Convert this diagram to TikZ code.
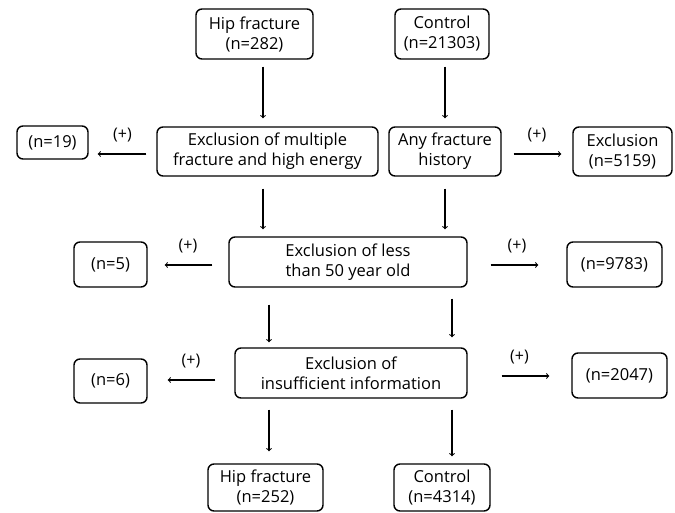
\documentclass[tikz,border=0pt]{standalone}
\usepackage{fontspec}
\setmainfont{Open Sans}
\usetikzlibrary{arrows,positioning,calc}

\begin{document}
\begin{tikzpicture}[x=1pt,y=-1pt]


\tikzstyle{block} = [draw, rounded corners=6pt, line width=1.4pt, align=center, inner sep=0pt, font=\fontsize{16.5}{20}\selectfont]
\tikzstyle{arr} = [->, line width=1.1pt]
\tikzstyle{plustag} = [midway, above=11pt, inner sep=0pt, font=\fontsize{16}{18}\selectfont]

\useasboundingbox (0,0) rectangle (675,513);

% lanes of the vertical arrows
\coordinate (laneA) at (263,0);
\coordinate (laneB) at (269,0);
\coordinate (laneC) at (445,0);
\coordinate (laneD) at (452,0);

\node[block, minimum width=117pt, minimum height=50pt] (hip1) at (254.5,34) {Hip fracture\\(n=282)};
\node[block, minimum width=94pt, minimum height=50pt] (ctrl1) at (442,34) {Control\\(n=21303)};

\node[block, minimum width=71pt, minimum height=33pt] (ex19) at (52.5,142.5) {(n=19)};
\node[block, minimum width=221pt, minimum height=49pt] (multi) at (267.5,151.5) {Exclusion of multiple\\fracture and high energy};
\node[block, minimum width=112pt, minimum height=49pt] (anyfx) at (445,151.5) {Any fracture\\history};
\node[block, minimum width=99pt, minimum height=49pt] (ex5159) at (622.5,151.5) {Exclusion\\(n=5159)};

\node[block, minimum width=73pt, minimum height=45pt] (ex5) at (110.5,264.5) {(n=5)};
\node[block, minimum width=238pt, minimum height=50pt] (less50) at (348,262) {Exclusion of less\\than 50 year old};
\node[block, minimum width=95pt, minimum height=45pt] (ex9783) at (614.5,264.5) {(n=9783)};

\node[block, minimum width=73pt, minimum height=44pt] (ex6) at (110.5,381) {(n=6)};
\node[block, minimum width=232pt, minimum height=50pt] (insuf) at (351,373) {Exclusion of\\insufficient information};
\node[block, minimum width=95pt, minimum height=45pt] (ex2047) at (619.5,375.5) {(n=2047)};

\node[block, minimum width=115pt, minimum height=47pt] (hip2) at (265.5,487.5) {Hip fracture\\(n=252)};
\node[block, minimum width=96pt, minimum height=47pt] (ctrl2) at (442,487.5) {Control\\(n=4314)};

% downward arrows
\draw[arr, shorten <=7pt, shorten >=8pt] (hip1.south -| laneA) -- (multi.north -| laneA);
\draw[arr, shorten <=7pt, shorten >=8pt] (ctrl1.south -| laneC) -- (anyfx.north -| laneC);
\draw[arr, shorten <=12pt, shorten >=7pt] (multi.south -| laneA) -- (less50.north -| laneA);
\draw[arr, shorten <=12pt, shorten >=7pt] (anyfx.south -| laneC) -- (less50.north -| laneC);
\draw[arr, shorten <=17pt, shorten >=5pt] (less50.south -| laneB) -- (insuf.north -| laneB);
\draw[arr, shorten <=11pt, shorten >=10pt] (less50.south -| laneD) -- (insuf.north -| laneD);
\draw[arr, shorten <=11pt, shorten >=12pt] (insuf.south -| laneB) -- (hip2.north -| laneB);
\draw[arr, shorten <=11pt, shorten >=7pt] (insuf.south -| laneD) -- (ctrl2.north -| laneD);

% sideways exclusions
\draw[arr, shorten <=10pt, shorten >=9pt] ([yshift=-2.5pt]multi.west) -- ([yshift=-2.5pt]multi.west -| ex19.east) node[plustag]{(+)};
\draw[arr, shorten <=12pt, shorten >=11pt] ([yshift=-2.5pt]anyfx.east) -- ([yshift=-2.5pt]anyfx.east -| ex5159.west) node[plustag]{(+)};
\draw[arr, shorten <=16pt, shorten >=17pt] ([yshift=-3pt]less50.west) -- ([yshift=-3pt]less50.west -| ex5.east) node[plustag]{(+)};
\draw[arr, shorten <=23pt, shorten >=28pt] ([yshift=-3pt]less50.east) -- ([yshift=-3pt]less50.east -| ex9783.west) node[plustag]{(+)};
\draw[arr, shorten <=19pt, shorten >=20pt] ([yshift=-7pt]insuf.west) -- ([yshift=-7pt]insuf.west -| ex6.east) node[plustag]{(+)};
\draw[arr, shorten <=34pt, shorten >=22pt] ([yshift=-3pt]insuf.east) -- ([yshift=-3pt]insuf.east -| ex2047.west) node[plustag]{(+)};

\end{tikzpicture}
\end{document}
